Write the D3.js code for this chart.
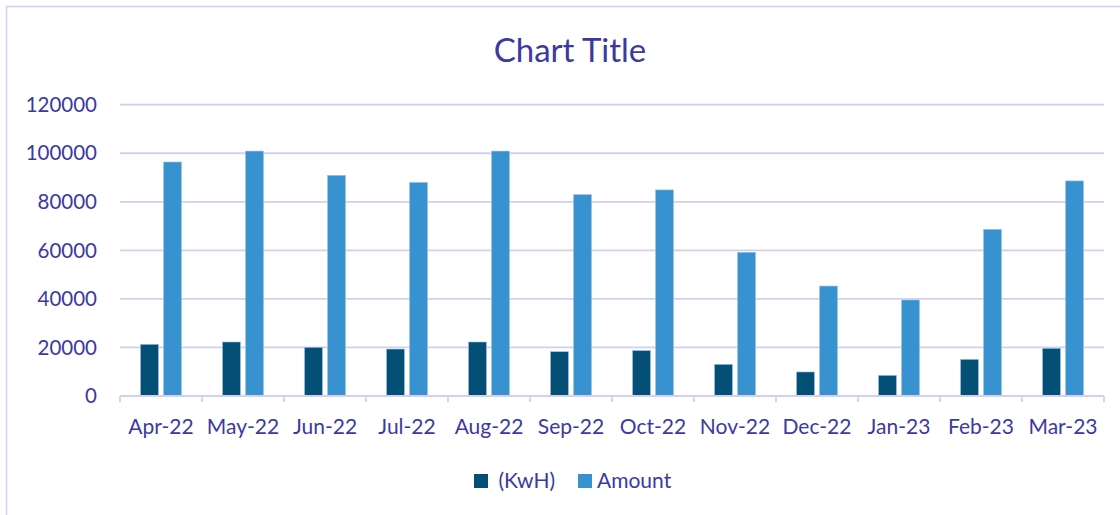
<!DOCTYPE html>
<html>
<head>
<meta charset="utf-8">
<script src="https://cdn.jsdelivr.net/npm/d3@7"></script>
<style>
    html, body { margin: 0; padding: 0; background: #fff; }
    svg { display: block; }
    text { font-family: Lato, "Open Sans", sans-serif; fill: #3c39a0; }
</style>
</head>
<body>
<div id="ground"></div>
<script>
const months = ["Apr-22", "May-22", "Jun-22", "Jul-22", "Aug-22", "Sep-22",
    "Oct-22", "Nov-22", "Dec-22", "Jan-23", "Feb-23", "Mar-23"];
const kwh = [21300, 22250, 20050, 19350, 22250, 18250, 18700, 13050, 9900, 8500, 15100, 19650];
const amount = [96400, 100900, 90900, 88000, 100900, 82950, 84900, 59200, 45300, 39550, 68650, 88600];
const seriesNames = [" (KwH)", "Amount"];
const yTicks = [0, 20000, 40000, 60000, 80000, 100000, 120000];

document.addEventListener("DOMContentLoaded", function () {

    const width = 1120, height = 515,
        left = 120, right = 1104, top = 104.7, bottom = 396,
        colors = ["#044f75", "#3792cf"],
        gridColor = "#d3cff0";

    let svg = d3.select("#ground")
        .append("svg")
        .attr("width", width)
        .attr("height", height);

    // chart frame
    svg.append("rect")
        .attr("x", 6.5).attr("y", 6.5)
        .attr("width", width + 20).attr("height", height + 20)
        .attr("fill", "none")
        .attr("stroke", "#d3cff2")
        .attr("stroke-width", 1.5);

    svg.append("text")
        .attr("x", 570).attr("y", 62)
        .attr("text-anchor", "middle")
        .attr("font-size", 33)
        .text("Chart Title");

    let x = d3.scaleBand().domain(months).range([left, right]).padding(0);
    let sub = d3.scaleBand().domain([0, 1]).range([-20.5, 20.5]).paddingInner(0.22);
    let y = d3.scaleLinear().domain([0, 120000]).range([bottom, top]);

    // gridlines
    svg.append("g")
        .selectAll("line")
        .data(yTicks.slice(1))
        .join("line")
        .attr("x1", left).attr("x2", right)
        .attr("y1", d => y(d)).attr("y2", d => y(d))
        .attr("stroke", gridColor)
        .attr("stroke-width", 1.8);

    // y labels
    svg.append("g")
        .selectAll("text")
        .data(yTicks)
        .join("text")
        .attr("x", 97)
        .attr("y", d => y(d))
        .attr("dy", "0.35em")
        .attr("text-anchor", "end")
        .attr("font-size", 20.5)
        .text(d => d);

    // bars
    const data = months.map((m, i) => ({m: m, vals: [kwh[i], amount[i]]}));
    let groups = svg.append("g")
        .selectAll("g")
        .data(data)
        .join("g")
        .attr("transform", d => "translate(" + (x(d.m) + x.bandwidth() / 2) + ",0)");

    groups.selectAll("rect")
        .data(d => d.vals.map((v, k) => ({k: k, v: v})))
        .join("rect")
        .attr("x", d => sub(d.k))
        .attr("width", sub.bandwidth())
        .attr("y", d => y(d.v))
        .attr("height", d => y(0) - y(d.v))
        .attr("fill", d => colors[d.k])
        .attr("stroke", "#9fc3e4")
        .attr("stroke-width", 0.6);

    // x axis line + ticks
    svg.append("line")
        .attr("x1", left).attr("x2", right)
        .attr("y1", bottom).attr("y2", bottom)
        .attr("stroke", gridColor).attr("stroke-width", 1.8);

    const bounds = months.map(m => x(m)).concat([right]);
    svg.append("g")
        .selectAll("line")
        .data(bounds)
        .join("line")
        .attr("x1", d => d).attr("x2", d => d)
        .attr("y1", bottom).attr("y2", bottom + 6)
        .attr("stroke", gridColor).attr("stroke-width", 1.8);

    svg.append("g")
        .selectAll("text")
        .data(months)
        .join("text")
        .attr("x", d => x(d) + x.bandwidth() / 2)
        .attr("y", 434)
        .attr("text-anchor", "middle")
        .attr("font-size", 21)
        .text(d => d);

    // legend
    const legendX = [474, 578];
    let lg = svg.append("g")
        .selectAll("g")
        .data(seriesNames)
        .join("g")
        .attr("transform", (d, i) => "translate(" + legendX[i] + ",474)");
    lg.append("rect")
        .attr("width", 14).attr("height", 14)
        .attr("fill", (d, i) => colors[i]);
    lg.append("text")
        .attr("x", 19).attr("y", 13.5)
        .attr("font-size", 21)
        .attr("xml:space", "preserve")
        .style("white-space", "pre")
        .text(d => d);
});
</script>
</body>
</html>
